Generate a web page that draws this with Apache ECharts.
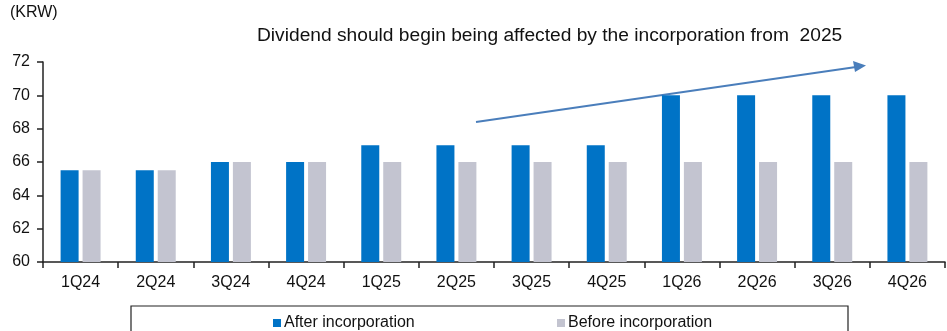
<!DOCTYPE html>
<html><head><meta charset="utf-8">
<script src="https://cdn.jsdelivr.net/npm/echarts@6/dist/echarts.min.js"></script>
<style>html,body{margin:0;padding:0;background:#fff}#c{width:947px;height:331px}</style>
</head><body><div id="c"></div>
<script>
const categories = ['1Q24','2Q24','3Q24','4Q24','1Q25','2Q25','3Q25','4Q25','1Q26','2Q26','3Q26','4Q26'];
const afterValues = [65.5,65.5,66,66,67,67,67,67,70,70,70,70];
const beforeValues = [65.5,65.5,66,66,66,66,66,66,66,66,66,66];
const yTicks = [60,62,64,66,68,70,72];
const unitLabel = '(KRW)';
const annotation = 'Dividend should begin being affected by the incorporation from  2025';
const seriesNames = ['After incorporation','Before incorporation'];

const font = 'Arial, "Liberation Sans", sans-serif';
const chart = echarts.init(document.getElementById('c'));
chart.setOption({
  animation:false,
  grid:{left:43,right:2,top:62,bottom:69,containLabel:false},
  xAxis:{type:'category',data:categories,
    axisLine:{lineStyle:{color:'#222',width:1.5}},
    axisTick:{show:true,length:6,lineStyle:{color:'#222',width:1.5}},
    axisLabel:{color:'#111',fontSize:16,fontFamily:font,margin:13}},
  yAxis:{type:'value',min:yTicks[0],max:yTicks[yTicks.length-1],interval:2,
    axisLine:{show:true,lineStyle:{color:'#222',width:1.5}},
    axisTick:{show:true,length:6,lineStyle:{color:'#222',width:1.5}},
    splitLine:{show:false},
    axisLabel:{color:'#111',fontSize:16,fontFamily:font,margin:13}},
  legend:[
    {data:[seriesNames[0]],left:268,top:310,itemWidth:8,itemHeight:8,icon:'rect',
     textStyle:{fontSize:16,fontFamily:font,color:'#111',padding:[0,0,0,-2]}},
    {data:[seriesNames[1]],left:552,top:310,itemWidth:8,itemHeight:8,icon:'rect',
     textStyle:{fontSize:16,fontFamily:font,color:'#111',padding:[0,0,0,-2]}}
  ],
  graphic:[
    {type:'rect',shape:{x:131,y:306,width:717,height:40},style:{fill:'none',stroke:'#222',lineWidth:1.2}},
    {type:'text',left:10,top:5,style:{text:unitLabel,fontSize:16,fontFamily:font,fill:'#111'}},
    {type:'text',left:257,top:26,style:{text:annotation,fontSize:19.2,fontFamily:font,fill:'#111'}},
    {type:'line',shape:{x1:476,y1:122,x2:856,y2:67},style:{stroke:'#4a7ebb',lineWidth:1.8}},
    {type:'polygon',shape:{points:[[866,65.5],[853,61],[855,72]]},style:{fill:'#4a7ebb'}}
  ],
  series:[
    {name:seriesNames[0],type:'bar',data:afterValues,barWidth:18,barGap:'22%',
     itemStyle:{color:'#0073C6'}},
    {name:seriesNames[1],type:'bar',data:beforeValues,barWidth:18,
     itemStyle:{color:'#C3C4D0'}}
  ]
});
</script></body></html>
